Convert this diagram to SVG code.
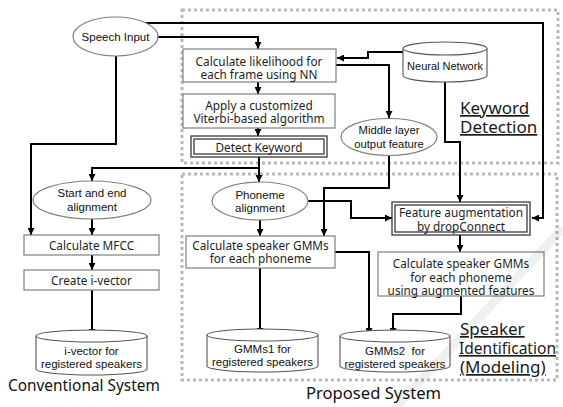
<svg xmlns="http://www.w3.org/2000/svg" width="563" height="407" viewBox="0 0 563 407">
  <defs>
    <marker id="arrow" viewBox="0 0 8 8" refX="8" refY="4" markerWidth="7" markerHeight="7" markerUnits="userSpaceOnUse" orient="auto">
      <path d="M0,0 L8,4 L0,8 z" fill="#000"/>
    </marker>
    <style>
      .box { fill: #fff; stroke: #7f7f7f; stroke-width: 1.2; }
      .dbl { fill: none; stroke: #3a3a3a; stroke-width: 1.3; }
      .oval { fill: #fff; stroke: #7f7f7f; stroke-width: 1.2; }
      .cyl { fill: #fff; stroke: #555; stroke-width: 1.1; }
      .region { fill: none; stroke: #b8b8b8; stroke-width: 3; stroke-dasharray: 3 3; }
      .wire { fill: none; stroke: #000; stroke-width: 2; }
      .arr { marker-end: url(#arrow); }
      .t { font-family: "Noto Sans", "DejaVu Sans", sans-serif; font-size: 11.8px; fill: #1e1e1e; text-anchor: middle; dominant-baseline: central; }
      .s { font-family: "Liberation Sans", Arial, sans-serif; font-size: 11.5px; fill: #111; text-anchor: middle; dominant-baseline: central; }
      .big { font-family: "Noto Sans", "DejaVu Sans", sans-serif; font-size: 17px; fill: #1a1a1a; text-decoration: underline; }
      .cap { font-family: "Noto Sans", "DejaVu Sans", sans-serif; fill: #111; }
    </style>
  </defs>

  <rect width="563" height="407" fill="#fff"/>

  <!-- dotted region frames -->
  <rect class="region" x="182" y="10" width="376" height="153"/>
  <rect class="region" x="182" y="174" width="375" height="206"/>

  <!-- connectors -->
  <g id="connectors">
    <path class="wire arr" d="M145,23 H543 V218 H532"/>
    <path class="wire arr" d="M158,37 H258 V49"/>
    <path class="wire arr" d="M116,56 V144 H31 V235"/>
    <path class="wire arr" d="M258,82 V94"/>
    <path class="wire arr" d="M258,128 V136"/>
    <path class="wire arr" d="M259,157 V168 H92 V181"/>
    <path class="wire arr" d="M259,166 V182"/>
    <path class="wire arr" d="M403,52 H368 V58 H337"/>
    <path class="wire arr" d="M336,65 H389 V118"/>
    <path class="wire arr" d="M445,82 V142 H460 V202"/>
    <path class="wire arr" d="M389,155 V188 H324 V236"/>
    <path class="wire arr" d="M308,201 H351 V218 H392"/>
    <path class="wire arr" d="M92,219 V235"/>
    <path class="wire arr" d="M92,255 V270"/>
    <path class="wire arr" d="M92,290 V336"/>
    <path class="wire arr" d="M260,220 V236"/>
    <path class="wire arr" d="M260,268 V335"/>
    <path class="wire arr" d="M335,252 H369 V335"/>
    <path class="wire arr" d="M460,235 V252"/>
    <path class="wire arr" d="M461,296 V314 H393 V335"/>
  </g>

  <!-- nodes -->
  <g id="speech-input">
    <ellipse class="oval" cx="115.5" cy="36.5" rx="42.5" ry="19.5"/>
    <text class="s" x="115.5" y="37">Speech Input</text>
  </g>

  <g id="calc-likelihood">
    <rect class="box" x="183" y="49" width="153" height="33"/>
    <text class="t" x="259" y="61">Calculate likelihood for<tspan x="259" dy="13">each frame using NN</tspan></text>
  </g>

  <g id="viterbi">
    <rect class="box" x="183" y="94" width="152" height="34"/>
    <text class="t" x="259" y="105">Apply a customized<tspan x="259" dy="13">Viterbi-based algorithm</tspan></text>
  </g>

  <g id="detect-keyword">
    <rect x="191" y="136" width="136" height="21" fill="#fff"/>
    <rect class="dbl" x="191" y="136" width="136" height="21"/>
    <rect class="dbl" x="194" y="139" width="130" height="15"/>
    <text class="t" x="259" y="147">Detect Keyword</text>
  </g>

  <g id="neural-network">
    <path class="cyl" d="M403,48.5 V75.5 A42,6.5 0 0 0 487,75.5 V48.5"/>
    <ellipse class="cyl" cx="445" cy="48.5" rx="42" ry="6.5"/>
    <text class="s" x="445" y="66" style="font-size:11px">Neural Network</text>
  </g>

  <g id="middle-layer">
    <ellipse class="oval" cx="389" cy="137" rx="48" ry="18.5"/>
    <text class="s" x="389" y="130" style="font-size:11.3px">Middle layer<tspan x="389" dy="14">output feature</tspan></text>
  </g>

  <g id="start-end">
    <ellipse class="oval" cx="92" cy="200" rx="59" ry="19"/>
    <text class="s" x="92" y="193">Start and end<tspan x="92" dy="14">alignment</tspan></text>
  </g>

  <g id="phoneme-alignment">
    <ellipse class="oval" cx="260" cy="201" rx="48" ry="19"/>
    <text class="s" x="260" y="195">Phoneme<tspan x="260" dy="13">alignment</tspan></text>
  </g>

  <g id="feature-augmentation">
    <rect x="392" y="202" width="138" height="33" fill="#fff"/>
    <rect class="dbl" x="392" y="202" width="138" height="33"/>
    <rect class="dbl" x="395" y="205" width="132" height="27"/>
    <text class="t" x="461" y="212">Feature augmentation<tspan x="461" dy="14">by dropConnect</tspan></text>
  </g>

  <g id="calc-mfcc">
    <rect class="box" x="24" y="235" width="135" height="20"/>
    <text class="t" x="91.5" y="245">Calculate MFCC</text>
  </g>

  <g id="create-ivector">
    <rect class="box" x="24" y="270" width="135" height="20"/>
    <text class="t" x="91.5" y="280">Create i-vector</text>
  </g>

  <g id="calc-gmms">
    <rect class="box" x="186" y="236" width="149" height="32"/>
    <text class="t" x="260.5" y="245">Calculate speaker GMMs<tspan x="260.5" dy="13">for each phoneme</tspan></text>
  </g>

  <g id="calc-gmms-augmented">
    <rect class="box" x="378" y="252" width="166" height="44"/>
    <text class="t" x="461" y="263">Calculate speaker GMMs<tspan x="461" dy="14">for each phoneme</tspan><tspan x="461" dy="13">using augmented features</tspan></text>
  </g>

  <g id="ivector-store">
    <path class="cyl" d="M36,336 V369 A55.5,6 0 0 0 147,369 V336"/>
    <ellipse class="cyl" cx="91.5" cy="336" rx="55.5" ry="6"/>
    <text class="s" x="91.5" y="351">i-vector for<tspan x="91.5" dy="13">registered speakers</tspan></text>
  </g>

  <g id="gmms1-store">
    <path class="cyl" d="M207,335 V366 A55.5,6 0 0 0 318,366 V335"/>
    <ellipse class="cyl" cx="262.5" cy="335" rx="55.5" ry="6"/>
    <text class="s" x="262.5" y="349">GMMs1 for<tspan x="262.5" dy="13">registered speakers</tspan></text>
  </g>

  <g id="gmms2-store">
    <path class="cyl" d="M340,336 V366 A55,6 0 0 0 450,366 V336"/>
    <ellipse class="cyl" cx="395" cy="336" rx="55" ry="6"/>
    <text class="s" x="395" y="351" style="white-space:pre">GMMs2  for<tspan x="395" dy="13">registered speakers</tspan></text>
  </g>

  <!-- region captions -->
  <text class="big" x="460" y="114">Keyword<tspan x="460" dy="19">Detection</tspan></text>
  <text class="big" x="460" y="335">Speaker</text>
  <text class="big" x="459" y="354" style="font-size:16.3px" textLength="97" lengthAdjust="spacingAndGlyphs">Identification</text>
  <text class="big" x="460" y="373">(Modeling)</text>

  <text class="cap" x="8" y="391" style="font-size:15.4px">Conventional System</text>
  <text class="cap" x="306" y="399" style="font-size:16.6px">Proposed System</text>

  <!-- faint diagonal band -->
  <path d="M563,228 L396,407" stroke="#000" stroke-opacity="0.06" stroke-width="9" fill="none"/>
</svg>
